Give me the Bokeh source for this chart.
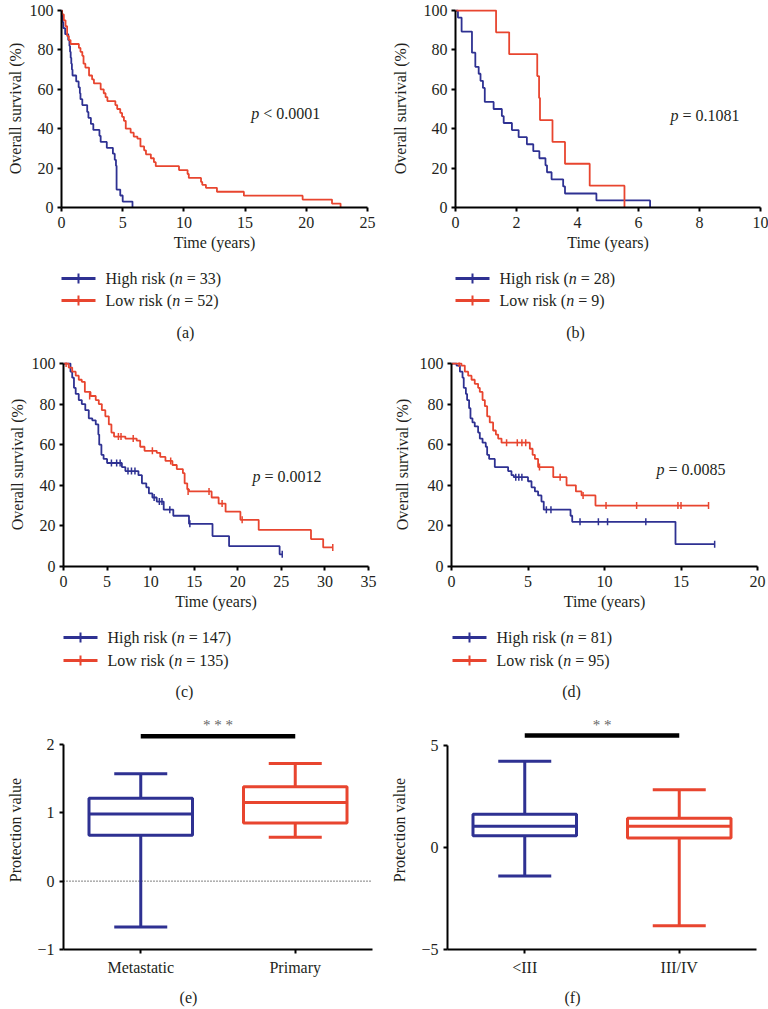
import math
from bokeh.plotting import figure
from bokeh.layouts import column, row
from bokeh.models import Range1d, FactorRange, FixedTicker, Label, Span, ColumnDataSource
from bokeh.core.properties import value
from bokeh.embed import file_html
from bokeh.resources import INLINE

FONT = "Liberation Serif"
TXT = "#231f20"
BLUE = "#2e3192"
RED = "#e8452f"

groups = ["High risk", "Low risk"]

# ---------------- (a) ----------------
n_a = [33, 52]
t_a_high = [0, 0.05, 0.1, 0.15, 0.3, 0.55, 0.65, 0.7, 0.75, 0.8, 0.85, 0.9, 1.2, 1.4, 1.5, 1.55, 1.7,
            2.1, 2.2, 2.4, 2.6, 3.1, 3.2, 3.7, 4.2, 4.35, 4.45, 4.5, 4.8, 5.0, 5.8]
s_a_high = [100, 97, 94, 91, 88, 85, 82, 79, 76, 73, 70, 67, 64, 61, 58, 55, 52,
            48.5, 45.5, 42.4, 39.4, 36.4, 33.3, 30.3, 27.3, 24.2, 21.2, 9.1, 6.1, 3.0, 0]
t_a_low = [0, 0.05, 0.19, 0.33, 0.46, 0.6, 0.74, 1.42, 1.55, 1.7, 1.8, 1.95, 2.25, 2.5, 2.65, 3.2,
           3.45, 3.6, 3.75, 4.4, 4.55, 4.8, 4.95, 5.1, 5.25, 5.65, 5.9, 6.2, 6.45, 6.75, 6.9, 7.3,
           7.55, 7.7, 9.6, 10.3, 10.4, 11.4, 11.5, 11.8, 12.7, 14.9, 19.7, 22.1, 22.8]
s_a_low = [100, 98, 95, 92, 87, 85, 83, 81, 79, 77, 73, 71, 67, 65, 63, 60,
           58, 56, 54, 52, 50, 48, 46, 44, 40, 38, 36, 35, 31, 29, 27, 25,
           23, 21, 19, 17, 15, 13, 11.5, 10, 8, 6, 4, 2, 0]
x_ticks_a = [0, 5, 10, 15, 20, 25]
p_a = "< 0.0001"

# ---------------- (b) ----------------
n_b = [28, 9]
t_b_high = [0, 0.08, 0.2, 0.54, 0.65, 0.76, 0.82, 0.9, 0.96, 1.25, 1.52, 1.58, 1.85, 2.07, 2.34,
            2.55, 2.75, 2.95, 3.0, 3.15, 3.53, 3.59, 4.62, 6.38]
s_b_high = [100, 96.4, 89.3, 78.6, 71.4, 67.9, 64.3, 60.7, 53.6, 50, 46.4, 42.9, 39.3, 35.7, 32.1,
            28.6, 25, 21.4, 17.9, 14.3, 10.7, 7.1, 3.6, 0]
t_b_low = [0, 1.33, 1.76, 2.68, 2.74, 2.77, 3.18, 3.59, 4.4, 5.54]
s_b_low = [100, 88.9, 77.8, 66.7, 55.6, 44.4, 33.3, 22.2, 11.1, 0]
x_ticks_b = [0, 2, 4, 6, 8, 10]
p_b = "= 0.1081"

# ---------------- (c) ----------------
n_c = [147, 135]
t_c_high = [0, 0.8, 1.0, 1.2, 1.4, 1.75, 2.1, 2.5, 2.9, 3.3, 3.7, 4.0, 4.1, 4.35, 4.6, 5.0, 6.7, 7.1,
            8.6, 9.0, 9.5, 9.8, 10.2, 10.7, 11.5, 12.6, 14.4, 17.1, 19.0, 24.8, 25.1]
s_c_high = [100, 96, 93, 88, 85, 82, 80, 77, 73, 72, 70, 65, 60, 55, 53, 51, 49, 47,
            45, 41, 39, 36, 34, 32, 28, 25, 21, 15, 10, 6, 6]
ct_c_high = [5.5, 6.1, 6.5, 7.4, 7.8, 8.2, 10.4, 11.0, 11.3, 12.2, 14.5, 25.1]
cs_c_high = [51, 51, 51, 47, 47, 47, 34, 32, 32, 28, 21, 6]
t_c_low = [0, 0.6, 1.0, 1.4, 1.75, 2.1, 2.45, 3.1, 3.7, 4.05, 4.4, 4.8, 5.2, 5.5, 5.8, 7.1, 8.4,
           8.8, 9.3, 10.7, 11.1, 11.7, 12.5, 13.0, 13.7, 13.9, 14.2, 14.4, 17.0, 17.8, 18.6,
           20.3, 22.4, 28.4, 29.8, 30.9]
s_c_low = [100, 98, 96, 94, 92, 91, 86, 84, 82, 80, 77, 74, 70, 66, 64, 63, 62,
           59, 57, 56, 54, 52, 50, 48, 46, 41, 38, 37, 34, 31, 27,
           23, 18, 13.5, 9.4, 9.4]
ct_c_low = [0.3, 3.0, 6.3, 6.6, 8.0, 10.2, 12.3, 14.3, 16.7, 18.2, 20.5, 30.9]
cs_c_low = [100, 84, 64, 64, 63, 57, 52, 37, 37, 31, 23, 9.4]
x_ticks_c = [0, 5, 10, 15, 20, 25, 30, 35]
p_c = "= 0.0012"

# ---------------- (d) ----------------
n_d = [81, 95]
t_d_high = [0, 0.33, 0.55, 0.72, 0.8, 0.94, 1.02, 1.15, 1.24, 1.37, 1.52, 1.74, 1.85, 2.03, 2.24,
            2.33, 2.46, 2.83, 3.7, 3.92, 4.07, 5.0, 5.23, 5.45, 5.66, 5.88, 6.03, 7.78, 7.89,
            14.64, 17.2]
s_d_high = [100, 99, 96, 93, 88, 85, 82, 78, 73, 71, 69, 66, 63, 61, 59,
            55, 53, 49, 47, 45, 44, 42, 39, 37, 35, 32, 28, 25, 22,
            11, 11]
ct_d_high = [4.2, 4.4, 4.6, 6.2, 6.5, 8.4, 9.6, 10.2, 12.7, 17.2]
cs_d_high = [44, 44, 44, 28, 28, 22, 22, 22, 22, 11]
t_d_low = [0, 0.65, 0.87, 1.09, 1.31, 1.52, 1.74, 1.85, 2.03, 2.18, 2.33, 2.5, 2.72, 2.9, 3.05,
           3.27, 5.12, 5.3, 5.45, 5.66, 6.65, 7.52, 8.13, 8.5, 9.41, 16.8]
s_d_low = [100, 99, 96, 94, 92, 90, 88, 86, 82, 79, 74, 71, 67, 65, 63,
           61, 58, 55, 53, 49, 44, 40, 37, 35, 30, 30]
ct_d_low = [0.5, 3.6, 4.3, 4.6, 4.85, 5.75, 7.1, 8.6, 10.1, 12.1, 14.8, 15.0, 16.8]
cs_d_low = [100, 61, 61, 61, 61, 49, 44, 35, 30, 30, 30, 30, 30]
x_ticks_d = [0, 5, 10, 15, 20]
p_d = "= 0.0085"

y_ticks_km = [0, 20, 40, 60, 80, 100]

# ---------------- (e) / (f) box plots ----------------
cats_e = ["Metastatic", "Primary"]
e_lower = [-0.67, 0.64]
e_q1 = [0.67, 0.85]
e_med = [0.98, 1.15]
e_q3 = [1.21, 1.38]
e_upper = [1.57, 1.72]
y_ticks_e = [-1, 0, 1, 2]
stars_e = "* * *"

cats_f = ["<III", "III/IV"]
f_lower = [-1.40, -3.84]
f_q1 = [0.57, 0.46]
f_med = [1.04, 1.04]
f_q3 = [1.63, 1.43]
f_upper = [4.22, 2.83]
y_ticks_f = [-5, 0, 5]
stars_f = "* *"

box_colors = [BLUE, RED]

# Times / Liberation Serif advance widths (per 1000 em)
CW = {' ': 250, '(': 333, ')': 333, '=': 564, '<': 564, '.': 250, 'H': 722, 'L': 611, 'i': 278,
      'g': 500, 'h': 500, 'r': 333, 's': 389, 'k': 500, 'o': 500, 'w': 722, 'n': 500, 'p': 500}


def tw(s, size=16):
    return sum(CW.get(c, 500) for c in s) * size / 1000.0


def style_axis(ax, label_standoff, tick_standoff=5):
    ax.axis_line_width = 2
    ax.axis_line_color = "black"
    ax.major_tick_line_width = 2
    ax.major_tick_line_color = "black"
    ax.major_tick_out = 4
    ax.major_tick_in = 0
    ax.minor_tick_line_color = None
    ax.major_label_text_font = FONT
    ax.major_label_text_font_size = "16px"
    ax.major_label_text_color = TXT
    ax.major_label_standoff = tick_standoff
    ax.axis_label_text_font = FONT
    ax.axis_label_text_font_size = "16px"
    ax.axis_label_text_font_style = "normal"
    ax.axis_label_text_color = TXT
    ax.axis_label_standoff = label_standoff


def km_fig(width, bl, br, bt, fh, bb, xmax, xticks, curves, ptxt, px, py, ystand):
    p = figure(width=width, height=bt + fh + bb, x_range=Range1d(0, xmax), y_range=Range1d(0, 100.5),
               min_border_left=bl, min_border_right=br, min_border_top=bt, min_border_bottom=bb,
               toolbar_location=None, output_backend="svg", title=None)
    p.grid.visible = False
    p.outline_line_color = None
    p.xaxis.ticker = FixedTicker(ticks=xticks)
    p.yaxis.ticker = FixedTicker(ticks=y_ticks_km)
    p.yaxis.bounds = (0, 100)
    p.xaxis.axis_label = "Time (years)"
    p.yaxis.axis_label = "Overall survival (%)"
    style_axis(p.xaxis[0], 3)
    style_axis(p.yaxis[0], ystand, 4)
    for color, t, s, ct, cs in curves:
        p.step(x=t, y=s, mode="after", line_color=color, line_width=1.8)
        if ct:
            p.scatter(x=ct, y=cs, marker="dash", angle=math.pi / 2, size=7,
                      line_color=color, line_width=1.5)
    p.add_layout(Label(x=px, y=py, text="p", text_font=FONT, text_font_style="italic",
                       text_font_size="16px", text_color=TXT, text_baseline="middle"))
    p.add_layout(Label(x=px, y=py, x_offset=12, text=ptxt, text_font=FONT,
                       text_font_size="16px", text_color=TXT, text_baseline="middle"))
    return p


def blank_fig(width, height):
    p = figure(width=width, height=height, x_range=Range1d(0, width), y_range=Range1d(height, 0),
               x_axis_location=None, y_axis_location=None, min_border=0,
               toolbar_location=None, output_backend="svg", title=None)
    p.grid.visible = False
    p.outline_line_color = None
    return p


def txt(p, x, y, s, style="normal", align="left", size="16px", color=TXT):
    p.text(x=[x], y=[y], text=[s], text_font=value(FONT), text_font_style=style,
           text_font_size=size, text_color=color, text_baseline="middle", text_align=align)


def legend_fig(width, height, lx, rows_y, ns, colors, label, lab_x, lab_y):
    p = blank_fig(width, height)
    for g, n, c, y in zip(groups, ns, colors, rows_y):
        p.segment(x0=[lx], y0=[y], x1=[lx + 34], y1=[y], line_color=c, line_width=3)
        p.segment(x0=[lx + 17], y0=[y - 5], x1=[lx + 17], y1=[y + 5], line_color=c, line_width=2)
        x = lx + 44
        a = g + " ("
        txt(p, x, y, a)
        x += tw(a)
        txt(p, x, y, "n", style="italic")
        x += tw("n") + tw(" ")
        txt(p, x, y, "= %d)" % n)
    txt(p, lab_x, lab_y, label, align="center")
    return p


def box_fig(width, bl, br, cats, lo, q1, med, q3, hi, ymin, ymax_bound, yend, yticks,
            bar_y, star_y, stars, zero_line, ystand):
    fw = width - bl - br
    p = figure(width=width, height=278, x_range=FactorRange(factors=cats), y_range=Range1d(ymin, yend),
               min_border_left=bl, min_border_right=br, min_border_top=10, min_border_bottom=28,
               toolbar_location=None, output_backend="svg", title=None)
    p.grid.visible = False
    p.outline_line_color = None
    p.yaxis.ticker = FixedTicker(ticks=yticks)
    p.yaxis.bounds = (ymin, ymax_bound)
    p.yaxis.major_label_overrides = {ymin: "\u2212%d" % abs(ymin)}
    p.yaxis.axis_label = "Protection value"
    style_axis(p.xaxis[0], 3)
    style_axis(p.yaxis[0], ystand, 5)
    if zero_line:
        p.add_layout(Span(location=0, dimension="width", line_color="black", line_width=1,
                          line_dash="1 2", level="underlay"))
    src = ColumnDataSource(dict(x=cats, lo=lo, q1=q1, med=med, q3=q3, hi=hi, c=box_colors))
    p.segment(x0="x", y0="q3", x1="x", y1="hi", source=src, line_color="c", line_width=3)
    p.segment(x0="x", y0="q1", x1="x", y1="lo", source=src, line_color="c", line_width=3)
    p.vbar(x="x", bottom="q1", top="q3", width=0.67, source=src, fill_color="white",
           line_color="c", line_width=3)
    p.scatter(x="x", y="med", source=src, marker="dash", size=0.67 * fw / 2, line_color="c",
              line_width=3)
    p.scatter(x="x", y="hi", source=src, marker="dash", size=53, line_color="c", line_width=3)
    p.scatter(x="x", y="lo", source=src, marker="dash", size=53, line_color="c", line_width=3)
    p.segment(x0=[cats[0]], y0=[bar_y], x1=[cats[1]], y1=[bar_y], line_color="black", line_width=4.5)
    p.add_layout(Label(x=1.0, y=star_y, text=stars, text_font=FONT, text_font_size="15px",
                       text_color="#666666", text_align="center", text_baseline="middle"))
    return p


# column A: x 0..384, column B: x 384..768
pa = km_fig(384, 61, 17, 9, 198, 50, 25, x_ticks_a,
            [(BLUE, t_a_high, s_a_high, None, None), (RED, t_a_low, s_a_low, None, None)],
            p_a, 15.5, 47.7, 3)
pb = km_fig(384, 71, 8, 9, 198, 50, 10, x_ticks_b,
            [(BLUE, t_b_high, s_b_high, None, None), (RED, t_b_low, s_b_low, None, None)],
            p_b, 7.05, 46.7, 12)
la = legend_fig(384, 95, 61, [21, 43], n_a, [BLUE, RED], "(a)", 185, 75)
lb = legend_fig(384, 95, 71, [21, 43], n_b, [BLUE, RED], "(b)", 191, 75)

pc = km_fig(384, 63, 16, 10, 204, 50, 35, x_ticks_c,
            [(BLUE, t_c_high, s_c_high, ct_c_high, cs_c_high), (RED, t_c_low, s_c_low, ct_c_low, cs_c_low)],
            p_c, 21.7, 44.3, 3)
pd_ = km_fig(384, 67, 11, 10, 204, 50, 20, x_ticks_d,
             [(BLUE, t_d_high, s_d_high, ct_d_high, cs_d_high), (RED, t_d_low, s_d_low, ct_d_low, cs_d_low)],
             p_d, 13.4, 47.8, 6)
lc = legend_fig(384, 84, 63, [21, 44], n_c, [BLUE, RED], "(c)", 184, 75)
ld = legend_fig(384, 84, 68, [21, 44], n_d, [BLUE, RED], "(d)", 187, 75)

pe = box_fig(384, 63, 12, cats_e, e_lower, e_q1, e_med, e_q3, e_upper, -1, 2, 2.495, y_ticks_e,
             2.12, 2.28, stars_e, True, 10)
pf = box_fig(384, 63, 12, cats_f, f_lower, f_q1, f_med, f_q3, f_upper, -5, 5, 6.71, y_ticks_f,
             5.49, 5.98, stars_f, False, 10)
le = blank_fig(384, 29)
txt(le, 188, 19, "(e)", align="center")
lf = blank_fig(384, 29)
txt(lf, 188, 19, "(f)", align="center")

layout = column(row(pa, pb, spacing=0), row(la, lb, spacing=0),
                row(pc, pd_, spacing=0), row(lc, ld, spacing=0),
                row(pe, pf, spacing=0), row(le, lf, spacing=0), spacing=0)

open("out.html", "w").write(file_html(layout, INLINE))
